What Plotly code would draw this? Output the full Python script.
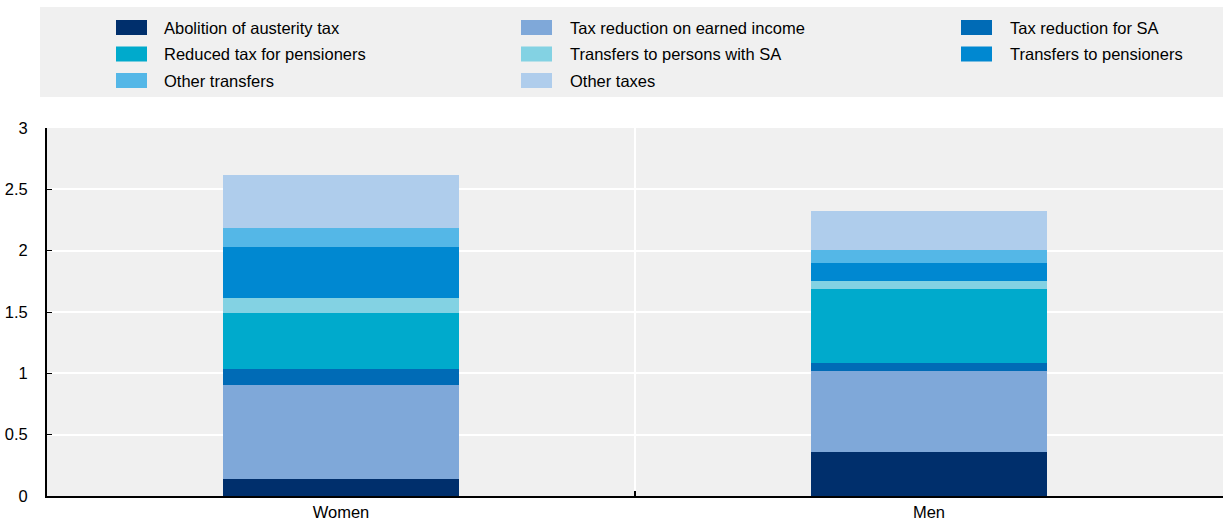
import plotly.graph_objects as go

categories = ["Women", "Men"]

abolition_austerity = [0.14, 0.356]
tax_red_earned = [0.768, 0.66]
tax_red_sa = [0.131, 0.071]
reduced_tax_pensioners = [0.456, 0.60]
transfers_sa = [0.12, 0.065]
transfers_pensioners = [0.418, 0.149]
other_transfers = [0.155, 0.104]
other_taxes = [0.429, 0.318]

series_names = [
    "Abolition of austerity tax",
    "Tax reduction on earned income",
    "Tax reduction for SA",
    "Reduced tax for pensioners",
    "Transfers to persons with SA",
    "Transfers to pensioners",
    "Other transfers",
    "Other taxes",
]
series_values = [abolition_austerity, tax_red_earned, tax_red_sa, reduced_tax_pensioners,
                 transfers_sa, transfers_pensioners, other_transfers, other_taxes]
series_colors = ["#002F6C", "#7FA8D9", "#006BB6", "#00AACC",
                 "#83D2E3", "#0088D1", "#54B7E7", "#AFCDEC"]

FONT = "Liberation Sans, Arial, sans-serif"
FS = 16.5

W, H = 1223, 522
ml, mr, mt, mb = 47, 0, 128, 26
pw = W - ml - mr
ph = H - mt - mb


def px2x(px):
    return (px - ml) / pw


def py2y(py):
    return 1 - (py - mt) / ph


fig = go.Figure()
for name, vals, color in zip(series_names, series_values, series_colors):
    fig.add_trace(go.Bar(x=categories, y=vals, name=name,
                         marker=dict(color=color, line=dict(width=0)),
                         width=0.4, showlegend=False))

# legend drawn as a 3-column grid (row-wise order, as in the reference)
col_swatch_px = [116, 521, 961]
col_text_px = [162, 568, 1008]
row_center_px = [27.5, 54, 80.5]
shapes = [dict(type="rect", xref="paper", yref="paper", x0=px2x(40), x1=1.0,
               y0=py2y(97), y1=py2y(7), fillcolor="#F0F0F0", line=dict(width=0), layer="below")]
annotations = []
for i, (name, color) in enumerate(zip(series_names, series_colors)):
    r, c = divmod(i, 3)
    cy = row_center_px[r]
    shapes.append(dict(type="rect", xref="paper", yref="paper",
                       x0=px2x(col_swatch_px[c]), x1=px2x(col_swatch_px[c] + 31),
                       y0=py2y(cy + 7.5), y1=py2y(cy - 7.5),
                       fillcolor=color, line=dict(width=0), layer="above"))
    annotations.append(dict(xref="paper", yref="paper", x=px2x(col_text_px[c]), y=py2y(cy),
                            xanchor="left", yanchor="middle", text=name, showarrow=False,
                            font=dict(family=FONT, size=FS, color="#000000")))

fig.update_layout(
    width=W, height=H,
    margin=dict(l=ml, r=mr, t=mt, b=mb, autoexpand=False),
    barmode="stack",
    paper_bgcolor="#FFFFFF",
    plot_bgcolor="#F0F0F0",
    font=dict(family=FONT, size=FS, color="#000000"),
    showlegend=False,
    xaxis=dict(type="category", showline=True, linecolor="#000000", linewidth=2,
               tickson="boundaries", ticks="inside", ticklen=5, tickcolor="#000000", tickwidth=2,
               showgrid=True, gridcolor="#FFFFFF", gridwidth=2,
               tickfont=dict(family=FONT, size=FS), fixedrange=True),
    yaxis=dict(range=[0, 3], tickvals=[0, 0.5, 1, 1.5, 2, 2.5, 3],
               ticktext=["0", "0.5", "1", "1.5", "2", "2.5", "3"],
               showline=True, linecolor="#000000", linewidth=2,
               ticks="inside", ticklen=5, tickcolor="#000000", tickwidth=1,
               showgrid=True, gridcolor="#FFFFFF", gridwidth=2, zeroline=False,
               tickfont=dict(family=FONT, size=FS), ticklabelstandoff=14, fixedrange=True),
    shapes=shapes,
    annotations=annotations,
)

fig.write_html("out.html", config={"displayModeBar": False},
               post_script="document.body.style.margin='0';document.body.style.padding='0';")
